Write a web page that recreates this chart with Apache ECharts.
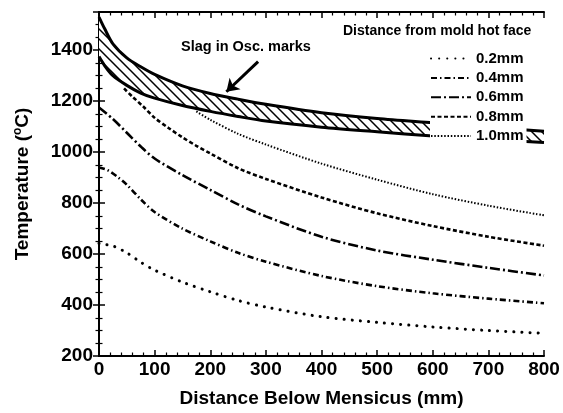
<!DOCTYPE html>
<html><head><meta charset="utf-8">
<script src="https://cdn.jsdelivr.net/npm/echarts@6/dist/echarts.min.js"></script>
<style>html,body{margin:0;padding:0;background:#fff}#c{width:563px;height:413px}</style>
</head><body><div id="c"></div>
<script>
// ---- data ----
const xTickValues = [0, 100, 200, 300, 400, 500, 600, 700, 800];
const yTickValues = [200, 400, 600, 800, 1000, 1200, 1400];
const seriesNames = ['0.2mm', '0.4mm', '0.6mm', '0.8mm', '1.0mm'];

const x02 = [0, 10, 25, 50, 75, 100, 150, 200, 250, 300, 400, 500, 600, 700, 800];
const t02 = [642, 638, 632, 605, 568, 537, 490, 452, 418, 392, 354, 332, 314, 300, 289];

const x04 = [0, 15, 35, 50, 75, 100, 150, 200, 250, 300, 400, 500, 600, 700, 800];
const t04 = [940, 930, 900, 872, 815, 765, 700, 650, 605, 570, 514, 474, 446, 425, 407];

const x06 = [0, 25, 50, 75, 100, 150, 200, 250, 300, 400, 500, 600, 700, 800];
const t06 = [1175, 1130, 1076, 1022, 975, 910, 852, 795, 748, 668, 614, 578, 546, 516];

const x08 = [45, 60, 80, 100, 125, 150, 175, 200, 250, 300, 400, 500, 600, 700, 800];
const t08 = [1250, 1218, 1178, 1135, 1095, 1058, 1025, 995, 937, 895, 822, 760, 710, 668, 633];

const x10 = [175, 200, 250, 300, 400, 500, 600, 700, 800];
const t10 = [1160, 1127, 1072, 1030, 955, 892, 835, 790, 752];

const bandX =     [0, 10, 25, 50, 75, 100, 150, 200, 250, 300, 400, 500, 600, 700, 800];
const bandUpper = [1530, 1485, 1425, 1370, 1335, 1305, 1260, 1230, 1208, 1188, 1155, 1132, 1115, 1098, 1082];
const bandLower = [1375, 1340, 1300, 1262, 1232, 1212, 1183, 1160, 1140, 1122, 1098, 1080, 1063, 1050, 1038];

const legendTitle = 'Distance from mold hot face';
const bandLabel = 'Slag in Osc. marks';
const arrowFrom = [286, 1355];
const arrowTo = [229, 1237];

// ---- build ----
const FONT = 'Liberation Sans, Arial, Helvetica, sans-serif';
const pair = (xs, ys) => xs.map((x, i) => [x, ys[i]]);

const pc = document.createElement('canvas');
pc.width = 10; pc.height = 10;
const g = pc.getContext('2d');
g.fillStyle = '#fff'; g.fillRect(0, 0, 10, 10);
g.strokeStyle = '#000'; g.lineWidth = 1.5;
g.beginPath();
g.moveTo(-1, -1); g.lineTo(11, 11);
g.moveTo(-6, 4); g.lineTo(6, 16);
g.moveTo(4, -6); g.lineTo(16, 6);
g.stroke();

const styles = [
  { width: 3, type: [0.1, 8], cap: 'round' },
  { width: 2.6, type: [6, 3, 1.5, 3], cap: 'butt' },
  { width: 2.6, type: [10, 3, 2, 3], cap: 'butt' },
  { width: 2.6, type: [4, 2.5], cap: 'butt' },
  { width: 2, type: [1.5, 1.8], cap: 'butt' }
];
const curveData = [pair(x02, t02), pair(x04, t04), pair(x06, t06), pair(x08, t08), pair(x10, t10)];

const series = [
  {
    name: 'bandFill', type: 'custom', coordinateSystem: 'cartesian2d', z: 1, silent: true, clip: true,
    data: pair(bandX, bandLower), encode: { x: 0, y: 1 },
    renderItem: (params, api) => {
      if (params.dataIndex !== 0) return null;
      const pts = bandX.map((x, i) => api.coord([x, bandUpper[i]]));
      for (let i = bandX.length - 1; i >= 0; i--) pts.push(api.coord([bandX[i], bandLower[i]]));
      return { type: 'polygon', shape: { points: pts, smooth: 0.3 }, style: { fill: { image: pc, repeat: 'repeat' }, stroke: null } };
    }
  },
  {
    name: 'bandLow', type: 'line', symbol: 'none', z: 2, smooth: 0.3,
    data: pair(bandX, bandLower),
    lineStyle: { color: '#000', width: 3 }
  },
  {
    name: 'bandHigh', type: 'line', symbol: 'none', z: 2, smooth: 0.3,
    data: pair(bandX, bandUpper),
    lineStyle: { color: '#000', width: 3 },
    markLine: {
      silent: true, symbol: ['none', 'arrow'], symbolSize: 12,
      lineStyle: { color: '#000', width: 3, type: 'solid' },
      label: { show: false },
      data: [[{ coord: arrowFrom }, { coord: arrowTo }]]
    }
  }
];
seriesNames.forEach((n, i) => {
  series.push({
    name: n, type: 'line', symbol: 'none', z: 3, smooth: 0.3,
    data: curveData[i],
    itemStyle: { color: '#000' },
    lineStyle: Object.assign({ color: '#000' }, styles[i])
  });
});

const axisCommon = {
  axisLine: { show: true, lineStyle: { color: '#000', width: 2 } },
  axisTick: { show: true, inside: true, length: 6, lineStyle: { color: '#000', width: 1.5 } },
  minorTick: { show: true, splitNumber: 5, length: 3.5, lineStyle: { color: '#000', width: 1.2 } },
  splitLine: { show: false }
};

const option = {
  animation: false,
  backgroundColor: '#fff',
  grid: { left: 99, right: 19, top: 12, bottom: 57 },
  xAxis: [
    Object.assign({}, axisCommon, {
      type: 'value', min: xTickValues[0], max: xTickValues[xTickValues.length - 1], interval: 100,
      position: 'bottom',
      name: 'Distance Below Mensicus (mm)', nameLocation: 'middle', nameGap: 33,
      nameTextStyle: { fontSize: 19, fontWeight: 'bold', color: '#000', fontFamily: FONT },
      axisLabel: { fontSize: 19, fontWeight: 'bold', color: '#000', fontFamily: FONT, margin: 4 }
    }),
    Object.assign({}, axisCommon, {
      type: 'value', min: xTickValues[0], max: xTickValues[xTickValues.length - 1], interval: 100,
      position: 'top', axisLabel: { show: false }
    })
  ],
  yAxis: [
    Object.assign({}, axisCommon, {
      type: 'value', min: yTickValues[0], max: 1550, interval: 200,
      minorTick: Object.assign({}, axisCommon.minorTick, { splitNumber: 4 }),
      position: 'left',
      name: 'Temperature ({s|o}C)', nameLocation: 'middle', nameGap: 66,
      nameTextStyle: {
        fontSize: 19, fontWeight: 'bold', color: '#000', fontFamily: FONT,
        rich: { s: { fontSize: 12, fontWeight: 'bold', color: '#000', fontFamily: FONT, verticalAlign: 'top', padding: [0, 0, 9, 0] } }
      },
      axisLabel: {
        fontSize: 19, fontWeight: 'bold', color: '#000', fontFamily: FONT, margin: 6, showMaxLabel: false,
        formatter: v => (yTickValues.indexOf(v) >= 0 ? String(v) : '')
      }
    }),
    Object.assign({}, axisCommon, {
      type: 'value', min: yTickValues[0], max: 1550, interval: 200,
      minorTick: Object.assign({}, axisCommon.minorTick, { splitNumber: 4 }),
      position: 'right', axisLabel: { show: false }
    })
  ],
  legend: {
    data: seriesNames, orient: 'vertical', left: 430, top: 47,
    itemWidth: 40, itemHeight: 14, itemGap: 4.4,
    backgroundColor: '#fff', padding: [4, 3, 6, 0],
    itemStyle: { color: 'rgba(0,0,0,0)', borderColor: 'rgba(0,0,0,0)', borderWidth: 0, opacity: 0 },
    textStyle: { fontSize: 15, fontWeight: 'bold', color: '#000', fontFamily: FONT },
    selectedMode: false, z: 10
  },
  graphic: [
    { type: 'text', z: 20, style: { text: legendTitle, x: 343, y: 31, align: 'left', verticalAlign: 'middle', textAlign: 'left', textVerticalAlign: 'middle', font: 'bold 14px ' + FONT, fill: '#000' } },
    { type: 'text', z: 20, style: { text: bandLabel, x: 181, y: 46.5, align: 'left', verticalAlign: 'middle', textAlign: 'left', textVerticalAlign: 'middle', font: 'bold 14.5px ' + FONT, fill: '#000' } }
  ],
  series: series
};

const chart = echarts.init(document.getElementById('c'), null, { renderer: 'canvas' });
chart.setOption(option);
</script>
</body></html>
